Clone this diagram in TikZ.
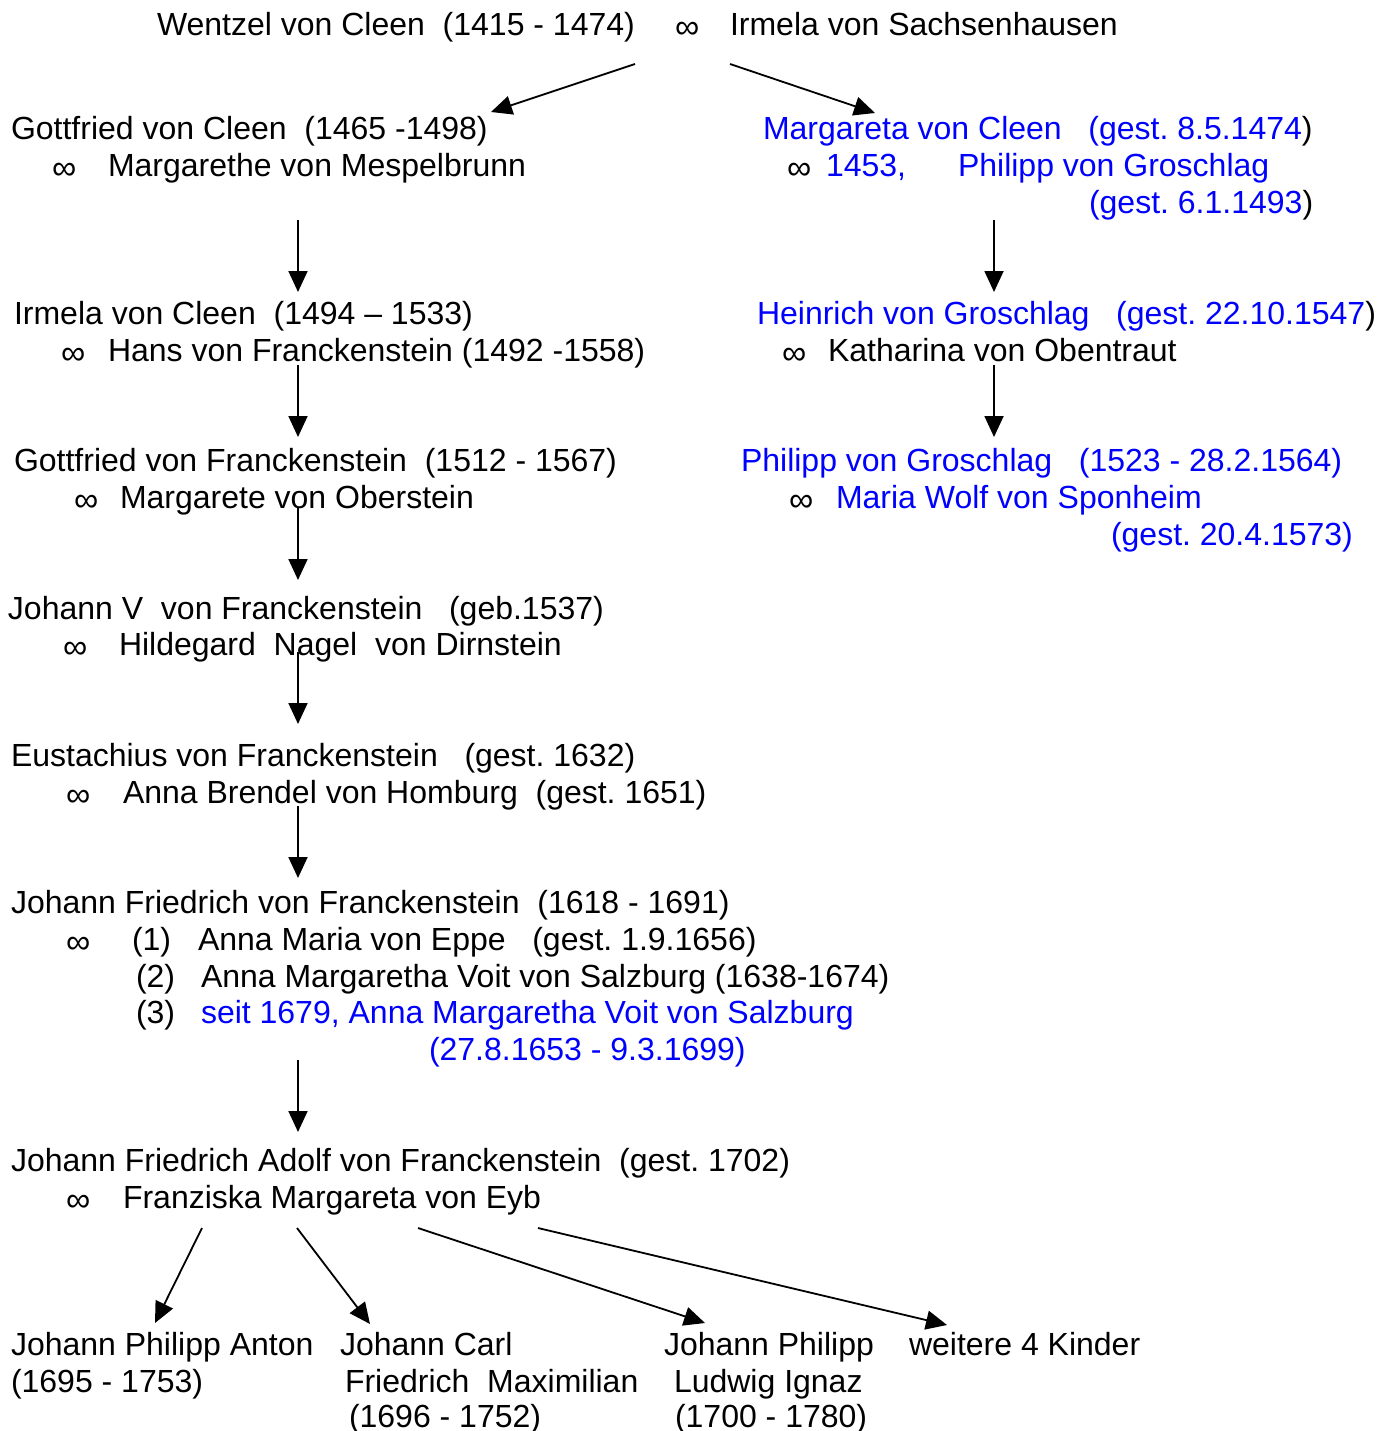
\documentclass[tikz,border=0pt]{standalone}
\usepackage{fontspec}
\setmainfont{Liberation Sans}
\usetikzlibrary{arrows.meta}
\definecolor{blu}{RGB}{0,0,255}
\frenchspacing
\begin{document}
\begin{tikzpicture}[x=1pt,y=-1pt,
  txt/.style={anchor=base west,inner sep=0pt,outer sep=0pt,font=\fontsize{32}{37}\selectfont\frenchspacing},
  btxt/.style={txt,text=blu},
  inf/.style={txt,font=\fontsize{34}{37}\selectfont},
  arr/.style={line width=1.8pt,-{Triangle[length=21pt,width=19pt]}}]
\useasboundingbox[fill=white] (0,0) rectangle (1394,1431);
% generation 0
\node[txt] (w1) at (157,36) {Wentzel von Cleen\ \ (1415 - 1474)};
\node[inf] (w2) at (675,39) {∞};
\node[txt] (w3) at (730,36) {Irmela von Sachsenhausen};
% left column
\node[txt] (g1) at (11,140) {Gottfried von Cleen\ \ (1465 -1498)};
\node[inf] (g2) at (52,180) {∞};
\node[txt] (g3) at (108,177) {Margarethe von Mespelbrunn};
\node[txt] (i1) at (14,324) {Irmela von Cleen\ \ (1494 – 1533)};
\node[inf] (i2) at (61,364) {∞};
\node[txt] (i3) at (108,361) {Hans von Franckenstein (1492 -1558)};
\node[txt] (f1) at (14,471) {Gottfried von Franckenstein\ \ (1512 - 1567)};
\node[inf] (f2) at (74,511) {∞};
\node[txt] (f3) at (120,508) {Margarete von Oberstein};
\node[txt] (j1) at (8,619) {Johann V\ \ von Franckenstein\ \ \ (geb.1537)};
\node[inf] (j2) at (63,658) {∞};
\node[txt] (j3) at (119,655) {Hildegard\ \ Nagel\ \ von Dirnstein};
\node[txt] (e1) at (11,766) {Eustachius von Franckenstein\ \ \ (gest. 1632)};
\node[inf] (e2) at (66,806) {∞};
\node[txt] (e3) at (123,803) {Anna Brendel von Homburg\ \ (gest. 1651)};
\node[txt] (h1) at (11,913) {Johann Friedrich von Franckenstein\ \ (1618 - 1691)};
\node[inf] (h2) at (66,953) {∞};
\node[txt] (h3) at (132,950) {(1)};
\node[txt] (h4) at (198,950) {Anna Maria von Eppe\ \ \ (gest. 1.9.1656)};
\node[txt] (h5) at (136,987) {(2)};
\node[txt] (h6) at (201,987) {Anna Margaretha Voit von Salzburg (1638-1674)};
\node[txt] (h7) at (136,1023) {(3)};
\node[btxt] (h8) at (201,1023) {seit 1679, Anna Margaretha Voit von Salzburg};
\node[btxt] (h9) at (429,1060) {(27.8.1653 - 9.3.1699)};
\node[txt] (a1) at (11,1171) {Johann Friedrich Adolf von Franckenstein\ \ (gest. 1702)};
\node[inf] (a2) at (66,1211) {∞};
\node[txt] (a3) at (123,1208) {Franziska Margareta von Eyb};
% children
\node[txt] (k1a) at (11,1355) {Johann Philipp Anton};
\node[txt] (k1b) at (11,1392) {(1695 - 1753)};
\node[txt] (k2a) at (340,1355) {Johann Carl};
\node[txt] (k2b) at (345,1392) {Friedrich\ \ Maximilian};
\node[txt] (k2c) at (349,1427) {(1696 - 1752)};
\node[txt] (k3a) at (664,1355) {Johann Philipp};
\node[txt] (k3b) at (674,1392) {Ludwig Ignaz};
\node[txt] (k3c) at (675,1427) {(1700 - 1780)};
\node[txt] (k4a) at (909,1355) {weitere 4 Kinder};
% right column
\node[btxt] (m1) at (763,140) {Margareta von Cleen\ \ \ (gest. 8.5.1474\textcolor{black}{)}};
\node[inf] (m2) at (787,180) {∞};
\node[btxt] (m3) at (826,177) {1453,};
\node[btxt] (m4) at (958,177) {Philipp von Groschlag};
\node[btxt] (m5) at (1089,214) {(gest. 6.1.1493\textcolor{black}{)}};
\node[btxt] (r1) at (757,324) {Heinrich von Groschlag\ \ \ (gest. 22.10.1547\textcolor{black}{)}};
\node[inf] (r2) at (782,364) {∞};
\node[txt] (r3) at (828,361) {Katharina von Obentraut};
\node[btxt] (p1) at (741,471) {Philipp von Groschlag\ \ \ (1523 - 28.2.1564)};
\node[inf] (p2) at (789,511) {∞};
\node[btxt] (p3) at (836,508) {Maria Wolf von Sponheim};
\node[btxt] (p4) at (1111,545) {(gest. 20.4.1573)};
% connector end points
\coordinate (c0l) at (635,64);   \coordinate (c0r) at (730,64);
\coordinate (t0l) at (491,112);  \coordinate (t0r) at (875,113);
\coordinate (s1) at (298,220);   \coordinate (e1t) at (298,292);
\coordinate (s2) at (298,365);   \coordinate (e2t) at (298,437);
\coordinate (s3) at (298,508);   \coordinate (e3t) at (298,580);
\coordinate (s4) at (298,652);   \coordinate (e4t) at (298,724);
\coordinate (s5) at (298,806);   \coordinate (e5t) at (298,878);
\coordinate (s6) at (298,1060);  \coordinate (e6t) at (298,1132);
\coordinate (rs1) at (994,220);  \coordinate (re1) at (994,292);
\coordinate (rs2) at (994,365);  \coordinate (re2) at (994,437);
\coordinate (b1s) at (202,1228); \coordinate (b1e) at (155,1323);
\coordinate (b2s) at (297,1228); \coordinate (b2e) at (370,1324);
\coordinate (b3s) at (418,1228); \coordinate (b3e) at (705,1323);
\coordinate (b4s) at (538,1228); \coordinate (b4e) at (947,1325);
% connectors
\draw[arr] (c0l) -- (t0l);
\draw[arr] (c0r) -- (t0r);
\draw[arr] (s1) -- (e1t);
\draw[arr] (s2) -- (e2t);
\draw[arr] (s3) -- (e3t);
\draw[arr] (s4) -- (e4t);
\draw[arr] (s5) -- (e5t);
\draw[arr] (s6) -- (e6t);
\draw[arr] (rs1) -- (re1);
\draw[arr] (rs2) -- (re2);
\draw[arr] (b1s) -- (b1e);
\draw[arr] (b2s) -- (b2e);
\draw[arr] (b3s) -- (b3e);
\draw[arr] (b4s) -- (b4e);
\end{tikzpicture}
\end{document}
